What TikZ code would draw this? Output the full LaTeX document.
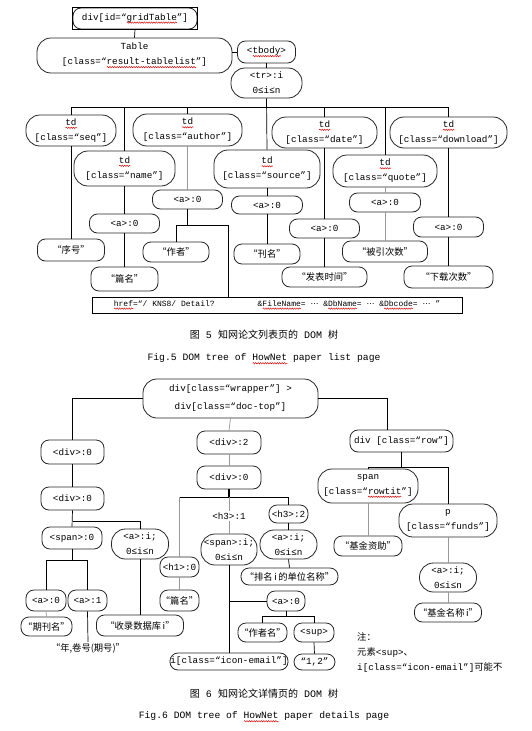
\documentclass[tikz,border=0pt]{standalone}
\usepackage{fontspec}
\setmainfont{Liberation Mono}
\newfontfamily\cjk{Noto Sans CJK SC}
\newfontfamily\dejavu{DejaVu Sans}
\usetikzlibrary{decorations.pathmorphing}
\newcommand{\mydots}{{\dejavu ⋯}}
\newcommand{\sq}[1]{\setbox0\hbox{#1}\leavevmode\rlap{\tikz[baseline=0pt,x=1pt,y=1pt,sharp corners]\draw[sharp corners,red!85!black,line width=0.45pt,decorate,decoration={snake,amplitude=0.7pt,segment length=2.4pt}] (0,-2.4) -- (\the\wd0,-2.4);}\box0\relax}
\begin{document}
\begin{tikzpicture}[x=1pt,y=-1pt,
  txt/.style={font=\fontsize{9.3}{15}\selectfont},
  pill/.style={draw=black!85, line width=0.8pt, rounded corners=8pt, inner sep=0pt, align=center, txt},
  tall/.style={pill, rounded corners=14pt},
  sz/.style 2 args={minimum width=#1pt, minimum height=#2pt},
  conn/.style={line width=0.7pt, black},
  gconn/.style={line width=0.7pt, black!40},
  lbl/.style={inner sep=1pt, txt}]
\useasboundingbox[fill=white] (0,0) rectangle (531,731);

% ---------------- Figure 5 ----------------
\node[pill,sz={124}{21}] (grid) at (135,18.5) {div[id=“\sq{gridTable}”]};
\draw[line width=0.5pt] (grid.south west) rectangle (grid.north east);
\node[tall,sz={195}{35}] (table) at (134.5,55.5) {Table\\{}[class=“\sq{result-tablelist}”]};
\node[pill,sz={58}{22}] (tbody) at (266.5,52) {<\sq{tbody}>};
\node[tall,sz={71}{30}] (tr) at (266.5,83) {<tr>:i\\0≤i≤n};

\node[tall,sz={90}{31}] (tdseq) at (71,130.5) {\sq{td}\\{}[class=“seq”]};
\node[tall,sz={109}{32}] (tdauth) at (187.5,130) {\sq{td}\\{}[class=“author”]};
\node[tall,sz={105}{31}] (tddate) at (324.5,132.5) {\sq{td}\\{}[class=“date”]};
\node[tall,sz={117}{31}] (tddl) at (448.5,132.5) {\sq{td}\\{}[class=“download”]};
\node[tall,sz={101}{35}] (tdname) at (124.5,168.5) {\sq{td}\\{}[class=“name”]};
\node[tall,sz={106}{38}] (tdsrc) at (267,169) {\sq{td}\\{}[class=“source”]};
\node[tall,sz={104}{32}] (tdquote) at (385,171) {\sq{td}\\{}[class=“quote”]};

\node[pill,sz={70}{19}] (aname) at (124.5,223.5) {<a>:0};
\node[pill,sz={70}{19}] (aauth) at (187.5,199.5) {<a>:0};
\node[pill,sz={71}{18}] (asrc) at (267,205) {<a>:0};
\node[pill,sz={70}{19}] (adate) at (324.5,228.5) {<a>:0};
\node[pill,sz={71}{19}] (aquote) at (385,202.5) {<a>:0};
\node[pill,sz={70}{20}] (adl) at (448.5,227) {<a>:0};

\node[pill,sz={67}{22}] (xuhao) at (71,250) {\cjk “序号”};
\node[pill,sz={67}{24}] (pianming) at (124.5,279) {\cjk “篇名”};
\node[pill,sz={66}{20}] (zuozhe) at (176,252) {\cjk “作者”};
\node[pill,sz={66}{20}] (kanming) at (267,254) {\cjk “刊名”};
\node[pill,sz={85}{20}] (fabiao) at (324.5,277) {\cjk “发表时间”};
\node[pill,sz={85}{21}] (beiyin) at (385,251.5) {\cjk “被引次数”};
\node[pill,sz={89}{22}] (xiazai) at (448.5,277) {\cjk “下载次数”};

\node[draw, line width=0.8pt, minimum width=370pt, minimum height=16pt, inner sep=0pt,
      font=\fontsize{8}{10}\selectfont] (href) at (277,305)
      {\sq{href}=“/ KNS8/ Detail?\hspace{43pt}\&\sq{FileName}= \mydots{} \&\sq{DbName}= \mydots{} \&\sq{Dbcode}= \mydots{} ”};
\coordinate (hrefin) at (228,297);

\draw[conn] (grid.south) -- (table.north);
\draw[conn] (tbody.west -| table.east) -- (tbody.west);
\draw[conn] (tbody.south) -- (tr.north);
\draw[conn] (tr.south) -- (tdsrc.north);
\coordinate (bus1) at (0,107);
\draw[conn] (tdseq.north) |- (bus1 -| tddl.north) -- (tddl.north);
\foreach \n in {tdname,tdauth,tddate,tdquote} \draw[conn] (\n.north) -- (\n.north |- bus1);
\draw[conn] (tdseq.south) -- (xuhao.north);
\draw[conn] (tdname.south) -- (aname.north);
\draw[conn] (aname.south) -- (pianming.north);
\draw[gconn] (tdauth.south) -- (aauth.north);
\coordinate (authj) at (0,225);
\draw[conn, line width=1.1pt] (aauth.south) -- (aauth.south |- authj);
\draw[conn] (zuozhe.north) |- (hrefin |- authj) -- (hrefin);
\draw[conn] (tdsrc.south) -- (asrc.north);
\draw[conn] (asrc.south) -- (kanming.north);
\draw[conn] (tddate.south) -- (adate.north);
\draw[conn] (adate.south) -- (fabiao.north);
\draw[gconn] (tdquote.south) -- (aquote.north);
\draw[gconn] (aquote.south) -- (beiyin.north);
\draw[conn] (tddl.south) -- (adl.north);
\draw[conn] (adl.south) -- (xiazai.north);

\node[lbl, font=\fontsize{10}{12}\selectfont] (cap1) at (264,335) {{\cjk 图} 5 {\cjk 知网论文列表页的} DOM {\cjk 树}};
\node[lbl, font=\fontsize{9.7}{12}\selectfont] (fig1) at (264,359) {Fig.5 DOM tree of \sq{HowNet} paper list page};

% ---------------- Figure 6 ----------------
\node[tall,sz={175}{39}] (root) at (230.5,398.5) {div[class=“wrapper”] >\\[3pt]div[class=“doc-top”]};
\node[pill,sz={63}{24}] (ldiva) at (72.5,452) {<div>:0};
\node[pill,sz={63}{23}] (ldivb) at (72.5,498.5) {<div>:0};
\node[pill,sz={64}{23}] (div2) at (229,442.5) {<div>:2};
\node[pill,sz={64}{23}] (mdiv) at (229,477.5) {<div>:0};
\node[pill,sz={103}{22}] (row) at (401.5,441) {div [class=“row”]};

\node[pill,sz={60}{22}] (span0) at (72,538) {<span>:0};
\node[tall,sz={57}{30}] (lai) at (140,544) {<a>:i;\\0≤i≤n};
\node[pill,sz={40}{21}] (a0) at (46,600.5) {<a>:0};
\node[pill,sz={39}{21}] (a1) at (87.5,600.5) {<a>:1};
\node[pill,sz={51}{19}] (qikan) at (46.5,626.5) {\cjk “期刊名”};
\node[lbl] (nianjuan) at (88,648) {\cjk “年,卷号(期号)”};
\node[pill,sz={87}{21}] (shoulu) at (140,625.5) {\cjk “收录数据库\,i”};

\node[pill,sz={39}{20}] (h1) at (179.5,567) {<h1>:0};
\node[pill,sz={39}{21}] (pm2) at (179.5,600.5) {\cjk “篇名”};
\node[lbl] (h3a) at (229,516) {<h3>:1};
\node[tall,sz={56}{31}] (spani) at (229,549.5) {<span>:i;\\0≤i≤n};
\node[pill,sz={39}{18}] (h3b) at (288.5,514) {<h3>:2};
\node[tall,sz={57}{29}] (ai2) at (288.5,544.5) {<a>:i;\\0≤i≤n};
\node[pill,sz={97}{17}] (paiming) at (289.5,576.5) {\cjk “排名\,i\,的单位名称”};
\node[pill,sz={38}{20}] (a02) at (286,601) {<a>:0};
\node[pill,sz={49}{19}] (zzm) at (262.5,632.5) {\cjk “作者名”};
\node[pill,sz={40}{19}] (sup) at (314,632.5) {<sup>};
\node[pill,sz={41}{16}] (num) at (314.5,662) {“1,2”};
\node[pill,sz={118}{17}] (email) at (229,661.5) {i[class=“icon-email”]};

\node[tall,sz={100}{34}] (spanrow) at (368,486) {span\\{}[class=“\sq{rowtit}”]};
\node[pill,sz={68}{20}] (zizhu) at (368,546) {\cjk “基金资助”};
\node[tall,sz={98}{33}] (pfunds) at (448,520.5) {p\\{}[class=“funds”]};
\node[tall,sz={57}{29}] (ai3) at (448,577.5) {<a>:i;\\0≤i≤n};
\node[pill,sz={67}{19}] (jjmc) at (448,612.5) {\cjk “基金名称\,i”};

\node[lbl, anchor=west] (note1) at (356,637) {\cjk 注：};
\node[lbl, anchor=west] (note2) at (356,653) {{\cjk 元素}<sup>{\cjk 、}};
\node[lbl, anchor=west] (note3) at (356,668) {i[class=“icon-email”]{\cjk 可能不}};

\draw[conn] (root.west) -| (ldiva.north);
\draw[conn] (root.east) -| ([xshift=-14.5pt]row.north);
\draw[gconn] (root.south) -- (div2.north);
\draw[gconn] (div2.south) -- (mdiv.north);
\draw[conn] (ldiva.south) -- (ldivb.north);
\draw[conn] (ldivb.south) -- (span0.north);
\draw[conn] (ldivb.south) ++(0,11) -| (lai.north);
\draw[conn] (span0.south) -- ++(0,11) coordinate (sj);
\draw[conn] (a0.north) |- (sj) -| (a1.north);
\draw[gconn] (a0.south) -- (qikan.north);
\draw[conn] (a1.south) -- (nianjuan.north);
\draw[conn] (lai.south) -- (shoulu.north);
\draw[conn, line width=1.6pt] (mdiv.south) -- ++(0,8) coordinate (mj);
\draw[conn] (h1.north |- mj) -- (h3b.north |- mj) -- (h3b.north);
\draw[gconn] (h1.north |- mj) -- (h1.north);
\draw[gconn] (h1.south) -- (pm2.north);
\draw[gconn] (mj) -- (h3a.north);
\draw[gconn] (h3a.south) -- (spani.north);
\draw[conn] (h3b.south) -- (ai2.north);
\draw[conn] (ai2.south) -- (paiming.north);
\draw[conn] (spani.south) -- (email.north);
\draw[conn] (spani.south |- a02.west) -- (a02.west);
\draw[conn] (a02.south) -- ++(0,5) coordinate (aj);
\draw[conn] (zzm.north) |- (aj) -| (sup.north);
\draw[conn] (sup.south) -- (num.north);
\draw[conn] (row.south) -- ++(0,15) coordinate (rj);
\draw[conn] (spanrow.north) |- (rj) -| (pfunds.north);
\draw[gconn] (spanrow.south) -- (zizhu.north);
\draw[gconn] (pfunds.south) -- (ai3.north);
\draw[gconn] (ai3.south) -- (jjmc.north);

\node[lbl, font=\fontsize{10}{12}\selectfont] (cap2) at (264,694) {{\cjk 图} 6 {\cjk 知网论文详情页的} DOM {\cjk 树}};
\node[lbl, font=\fontsize{9.7}{12}\selectfont] (fig2) at (264,717) {Fig.6 DOM tree of \sq{HowNet} paper details page};
\end{tikzpicture}
\end{document}
